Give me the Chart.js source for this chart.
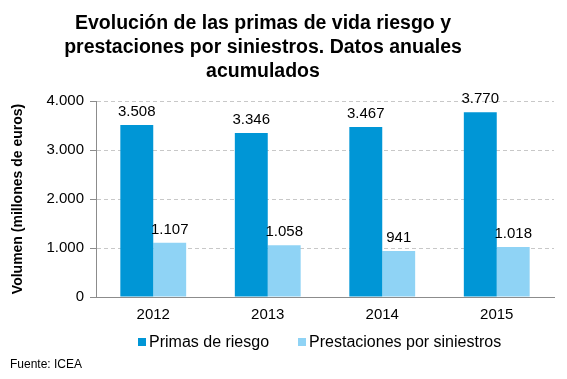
<!DOCTYPE html>
<html><head><meta charset="utf-8">
<script src="https://cdn.jsdelivr.net/npm/chart.js@4/dist/chart.umd.min.js"></script>
<style>
html,body{margin:0;padding:0;background:#fff;}
#wrap{position:relative;width:567px;height:379px;}
#title{position:absolute;left:0;top:10px;width:526px;text-align:center;font:bold 19.5px/24px "Liberation Sans",Arial,sans-serif;color:#000;}
#foot{position:absolute;left:10px;top:357px;font:12px "Liberation Sans",Arial,sans-serif;color:#000;}
#legend{position:absolute;left:138px;top:332px;height:20px;display:flex;align-items:center;font:16px/20px "Liberation Sans",Arial,sans-serif;color:#000;white-space:nowrap;}
#legend .item{display:flex;align-items:center;margin-right:29px;}
#legend .sw{width:8px;height:8px;margin-right:3px;}
</style></head>
<body><div id="wrap"><canvas id="c" width="567" height="379"></canvas><div id="title"></div><div id="legend"></div><div id="foot">Fuente: ICEA</div></div>
<script>
const categories = ["2012","2013","2014","2015"];
const primas = [3508, 3346, 3467, 3770];
const prestaciones = [1107, 1058, 941, 1018];
const seriesNames = ["Primas de riesgo","Prestaciones por siniestros"];
const seriesColors = ["#0096D6","#8FD3F5"];
const titleLines = ["Evolución de las primas de vida riesgo y","prestaciones por siniestros. Datos anuales","acumulados"];
const yTitle = "Volumen (millones de euros)";

document.getElementById('title').innerHTML = titleLines.join('<br>');

const FONT = '"Liberation Sans", Arial, sans-serif';
function fmt(v){ return String(Math.round(v)).replace(/\B(?=(\d{3})+(?!\d))/g, "."); }

const labelPlugin = {
  id:'lbl',
  afterDatasetsDraw(chart){
    const ctx = chart.ctx;
    ctx.save();
    ctx.font = '15px ' + FONT;
    ctx.fillStyle = '#000';
    ctx.textAlign = 'center';
    ctx.textBaseline = 'alphabetic';
    chart.data.datasets.forEach((ds,i)=>{
      chart.getDatasetMeta(i).data.forEach((bar,j)=>{
        ctx.fillText(fmt(ds.data[j]), bar.x, bar.y - 9);
      });
    });
    ctx.restore();
  }
};

const chart = new Chart(document.getElementById('c'), {
  type:'bar',
  data:{
    labels: categories,
    datasets:[
      {label: seriesNames[0], data: primas, backgroundColor: seriesColors[0]},
      {label: seriesNames[1], data: prestaciones, backgroundColor: seriesColors[1]}
    ]
  },
  options:{
    responsive:false,
    animation:false,
    devicePixelRatio:1,
    layout:{padding:{left:10,right:13,top:101,bottom:46}},
    datasets:{bar:{categoryPercentage:0.575,barPercentage:1}},
    plugins:{
      title:{display:false},
      legend:{display:false},
      tooltip:{enabled:false}
    },
    scales:{
      x:{
        grid:{display:false,drawTicks:false},
        border:{display:true,color:'#8c8c8c',width:1},
        ticks:{color:'#000',font:{family:FONT,size:15},padding:9}
      },
      y:{
        min:0,max:4000,
        ticks:{stepSize:1000,color:'#000',font:{family:FONT,size:15},padding:6,callback:v=>fmt(v)},
        grid:{color:'#c8c8c8',tickColor:'#8c8c8c',tickLength:6,drawTicks:true},
        border:{display:true,color:'#8c8c8c',dash:[4,3]},
        title:{display:true,text:yTitle,color:'#000',font:{family:FONT,size:14,weight:'bold'},padding:{top:0,bottom:8}},
        afterFit(s){ s.width = 86; }
      }
    }
  },
  plugins:[labelPlugin]
});

// HTML legend built from the chart's datasets
const leg = document.getElementById('legend');
chart.data.datasets.forEach(ds=>{
  const it = document.createElement('span'); it.className='item';
  const sw = document.createElement('span'); sw.className='sw'; sw.style.background = ds.backgroundColor;
  const tx = document.createElement('span'); tx.textContent = ds.label;
  it.appendChild(sw); it.appendChild(tx); leg.appendChild(it);
});
</script></body></html>
